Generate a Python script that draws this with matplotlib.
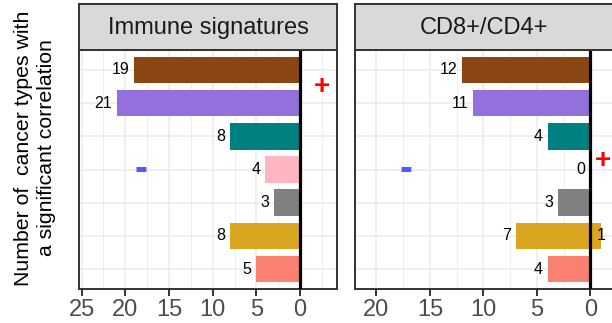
import matplotlib
matplotlib.use("Agg")
import matplotlib.pyplot as plt
from matplotlib.ticker import MultipleLocator

plt.rcParams['font.family'] = ['Liberation Sans', 'DejaVu Sans']

# ---- data ----
panel_titles = ["Immune signatures", "CD8+/CD4+"]
row_colors = ["#8B4513", "#9370DB", "#008080", "#FFB6C1", "#808080", "#DAA520", "#FA8072"]
immune_neg = [19, 21, 8, 4, 3, 8, 5]
immune_pos = [0, 0, 0, 0, 0, 0, 0]
cd8_neg = [12, 11, 4, 0, 3, 7, 4]
cd8_pos = [0, 0, 0, 0, 0, 1, 0]
immune_ticks = [25, 20, 15, 10, 5, 0]
cd8_ticks = [20, 15, 10, 5, 0]
# sign markers (x in count units, y in row units)
immune_plus = (-2.5, 0.5)
immune_minus = (18.2, 3.0)
cd8_plus = (-1.2, 2.75)
cd8_minus = (17.2, 3.0)
ylabel = "Number of  cancer types with\na significant correlation"

# ---- layout ----
W, H = 612, 323
fig = plt.figure(figsize=(W / 100, H / 100), dpi=100)

def fx(px):
    return px / W

def fy(py):
    return 1 - py / H

panel_top, panel_bot, strip_top = 50, 289, 4
panels = [
    dict(left=79, right=337.3, xlim=(25.3, -4.25), neg=immune_neg, pos=immune_pos,
         ticks=immune_ticks, plus=immune_plus, minus=immune_minus, title=panel_titles[0]),
    dict(left=354.5, right=613.5, xlim=(22.05, -2.15), neg=cd8_neg, pos=cd8_pos,
         ticks=cd8_ticks, plus=cd8_plus, minus=cd8_minus, title=panel_titles[1]),
]

border = "#333333"
grid_c = "#EBEBEB"
rows = list(range(len(row_colors)))

for i, p in enumerate(panels):
    ax = fig.add_axes([fx(p['left']), fy(panel_bot), fx(p['right'] - p['left']),
                       (panel_bot - panel_top) / H])
    ax.set_xlim(*p['xlim'])
    ax.set_ylim(len(rows) - 0.4, -0.6)
    ax.set_axisbelow(True)
    ax.xaxis.set_major_locator(MultipleLocator(5))
    ax.xaxis.set_minor_locator(MultipleLocator(2.5))
    ax.grid(True, which='major', axis='x', color=grid_c, lw=1.1)
    ax.grid(True, which='minor', axis='x', color=grid_c, lw=0.6)
    for r in rows:
        ax.axhline(r, color=grid_c, lw=1.1, zorder=0)
    ax.barh(rows, p['neg'], left=0, height=0.8, color=row_colors, zorder=2)
    ax.barh(rows, [-v for v in p['pos']], left=0, height=0.8, color=row_colors, zorder=2)
    ax.axvline(0, color='black', lw=2.3, zorder=3)
    for r, v in zip(rows, p['neg']):
        ax.annotate(str(v), (v, r), xytext=(-3.5, 0), textcoords='offset points',
                    ha='right', va='center', fontsize=11.5, color='black', zorder=4)
    for r, v in zip(rows, p['pos']):
        if v > 0:
            ax.annotate(str(v), (-v, r), ha='center', va='center', fontsize=11.5,
                        color='black', zorder=4)
    ax.text(p['plus'][0], p['plus'][1], "+", color='#FF0000', fontsize=20,
            fontweight='bold', ha='center', va='center', zorder=4)
    ax.text(p['minus'][0], p['minus'][1], "-", color='#4F5BFF', fontsize=28,
            fontweight='bold', ha='center', va='center', zorder=4)
    ax.set_xticks(p['ticks'])
    ax.set_xticklabels([str(t) for t in p['ticks']])
    ax.xaxis.set_minor_locator(MultipleLocator(2.5))
    ax.tick_params(axis='x', which='major', length=5, width=1.4, color=border,
                   labelsize=17, labelcolor='#4D4D4D', pad=2)
    ax.tick_params(axis='x', which='minor', length=0)
    ax.set_yticks([])
    for s in ax.spines.values():
        s.set_color(border)
        s.set_linewidth(1.4)
    # strip
    sax = fig.add_axes([fx(p['left']), fy(panel_top), fx(p['right'] - p['left']),
                        (panel_top - strip_top) / H])
    sax.set_facecolor("#D9D9D9")
    sax.set_xticks([])
    sax.set_yticks([])
    for s in sax.spines.values():
        s.set_color(border)
        s.set_linewidth(1.4)
    sax.text(0.5, 0.47, p['title'], ha='center', va='center', fontsize=17,
             color='#1A1A1A', transform=sax.transAxes)

fig.text(fx(35), fy(148), ylabel, rotation=90,
         ha='center', va='center', fontsize=15.3, color='black', linespacing=1.3)

fig.savefig("out.png", dpi=100)
